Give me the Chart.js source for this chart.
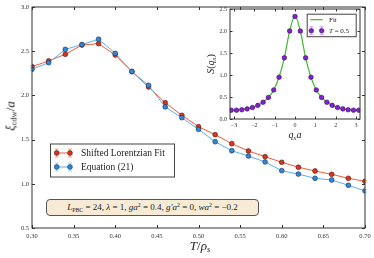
<!DOCTYPE html>
<html>
<head>
<meta charset="utf-8">
<script src="https://cdn.jsdelivr.net/npm/chart.js@4.4.1/dist/chart.umd.min.js"></script>
<style>
    body { margin: 0; background: #fff; }
    #wrap { position: relative; width: 374px; height: 258px; overflow: hidden; }
    canvas { position: absolute; top: 0; }
    #main { left: 0; }
    #inset { left: 195px; }
    .lbl { position: absolute; font-family: "Liberation Serif", serif; color: #222; white-space: nowrap; line-height: 1; }
    .lbl i { font-style: italic; }
    .lbl sub { font-size: 65%; vertical-align: -0.28em; line-height: 0; }
    .lbl sup { font-size: 65%; vertical-align: 0.45em; line-height: 0; }
    #ytitle { left: 10px; top: 116px; font-size: 13px; transform: translate(-50%, -50%) rotate(-90deg); }
    #xtitle { left: 200px; top: 245px; font-size: 13px; transform: translate(-50%, -50%); }
    #iytitle { left: 211px; top: 64px; font-size: 10px; transform: translate(-50%, -50%) rotate(-90deg); }
    #ixtitle { left: 295px; top: 135px; font-size: 10px; transform: translate(-50%, -50%); }
    #params { left: 46px; top: 199px; width: 211px; height: 15px; border: 1px solid #555; border-radius: 4px;
              background: #f7ebd6; font-size: 9px; display: flex; align-items: center; justify-content: center; }
</style>
</head>
<body>
<div id="wrap">
    <canvas id="main" width="374" height="258"></canvas>
    <canvas id="inset" width="179" height="145"></canvas>
    <div class="lbl" id="ytitle"><i>ξ</i><sub>cdw</sub>/<i>a</i></div>
    <div class="lbl" id="xtitle"><i>T</i>/<i>ρ<sub>s</sub></i></div>
    <div class="lbl" id="iytitle"><i>S</i>(<i>q<sub>x</sub></i>)</div>
    <div class="lbl" id="ixtitle"><i>q<sub>x</sub>a</i></div>
    <div class="lbl" id="params"><span><i>L</i><sub>PBC</sub> = 24, <i>λ</i> = 1, <i>ga</i><sup>2</sup> = 0.4, <i>g′a</i><sup>2</sup> = 0, <i>wa</i><sup>2</sup> = −0.2</span></div>
</div>

<script>
// Huvuddiagram: korrelationslängd mot temperatur
const temps = [0.30, 0.32, 0.34, 0.36, 0.38, 0.40, 0.42, 0.44, 0.46, 0.48, 0.50,
               0.52, 0.54, 0.56, 0.58, 0.60, 0.62, 0.64, 0.66, 0.68, 0.70];
const lorentzFit = [2.325, 2.39, 2.465, 2.57, 2.585, 2.457, 2.27, 2.095, 1.917, 1.775, 1.646,
                    1.556, 1.454, 1.371, 1.307, 1.243, 1.187, 1.145, 1.107, 1.062, 1.028];
const lorentzErr = [0.012, 0.012, 0.012, 0.012, 0.012, 0.012, 0.01, 0.01, 0.01, 0.01, 0.01,
                    0.01, 0.01, 0.01, 0.01, 0.01, 0.01, 0.01, 0.01, 0.01, 0.01];
const equation21 = [2.295, 2.37, 2.52, 2.575, 2.635, 2.476, 2.27, 2.114, 1.87, 1.748, 1.616,
                    1.476, 1.374, 1.314, 1.247, 1.148, 1.11, 1.062, 1.043, 0.983, 0.92];
const equationErr = [0.015, 0.015, 0.015, 0.015, 0.015, 0.015, 0.015, 0.015, 0.015, 0.015, 0.015,
                     0.015, 0.015, 0.015, 0.015, 0.015, 0.015, 0.015, 0.015, 0.015, 0.015];

// Insatt diagram: strukturfaktor vid T = 0.5
const momenta = [-3.1416, -2.8798, -2.618, -2.3562, -2.0944, -1.8326, -1.5708, -1.309, -1.0472,
                 -0.7854, -0.5236, -0.2618, 0, 0.2618, 0.5236, 0.7854, 1.0472, 1.309, 1.5708,
                 1.8326, 2.0944, 2.3562, 2.618, 2.8798, 3.1416];
const structure = [0.20, 0.20, 0.21, 0.23, 0.26, 0.31, 0.38, 0.49, 0.66, 0.95, 1.39, 2.00, 2.33,
                   2.00, 1.39, 0.95, 0.66, 0.49, 0.38, 0.31, 0.26, 0.23, 0.21, 0.20, 0.20];
const structureErr = [0.01, 0.01, 0.01, 0.01, 0.01, 0.01, 0.01, 0.015, 0.02, 0.02, 0.03, 0.03, 0.03,
                      0.03, 0.03, 0.02, 0.02, 0.015, 0.01, 0.01, 0.01, 0.01, 0.01, 0.01, 0.01];
const fitCurve = [0.20, 0.20, 0.21, 0.23, 0.26, 0.31, 0.38, 0.49, 0.66, 0.95, 1.39, 2.00, 2.35,
                  2.00, 1.39, 0.95, 0.66, 0.49, 0.38, 0.31, 0.26, 0.23, 0.21, 0.20, 0.20];

const serif = '"Liberation Serif", serif';

/**
 * Ram runt ritytan med inåtvända tickmarkeringar på alla fyra sidor.
 */
const framePlugin = {
    id: 'frame',
    afterDraw(chart, args, opts) {
        const { ctx, chartArea: a, scales } = chart;
        const len = opts.tickLength;
        ctx.save();
        ctx.strokeStyle = '#333';
        ctx.lineWidth = 1;
        ctx.strokeRect(a.left, a.top, a.right - a.left, a.bottom - a.top);
        ctx.beginPath();
        scales.x.ticks.forEach(t => {
            const px = Math.round(scales.x.getPixelForValue(t.value)) + 0.5;
            ctx.moveTo(px, a.bottom); ctx.lineTo(px, a.bottom - len);
            ctx.moveTo(px, a.top); ctx.lineTo(px, a.top + len);
        });
        scales.y.ticks.forEach(t => {
            const py = Math.round(scales.y.getPixelForValue(t.value)) + 0.5;
            ctx.moveTo(a.left, py); ctx.lineTo(a.left + len, py);
            ctx.moveTo(a.right, py); ctx.lineTo(a.right - len, py);
        });
        ctx.stroke();
        ctx.restore();
    }
};

/**
 * Ritar felstaplar för dataset som har en errors-lista.
 */
const errorBarPlugin = {
    id: 'errorBars',
    beforeDatasetsDraw(chart) {
        const ctx = chart.ctx;
        chart.data.datasets.forEach((ds, i) => {
            if (!ds.errors) return;
            const meta = chart.getDatasetMeta(i);
            const yScale = chart.scales[meta.yAxisID];
            ctx.save();
            ctx.strokeStyle = ds.errorColor;
            ctx.lineWidth = 1;
            meta.data.forEach((pt, j) => {
                const v = ds.data[j].y;
                const y1 = yScale.getPixelForValue(v - ds.errors[j]);
                const y2 = yScale.getPixelForValue(v + ds.errors[j]);
                ctx.beginPath();
                ctx.moveTo(pt.x, y1); ctx.lineTo(pt.x, y2);
                ctx.moveTo(pt.x - 2, y1); ctx.lineTo(pt.x + 2, y1);
                ctx.moveTo(pt.x - 2, y2); ctx.lineTo(pt.x + 2, y2);
                ctx.stroke();
            });
            ctx.restore();
        });
    }
};

/**
 * Förklaringsruta inne i ritytan, i matplotlib-stil.
 */
const boxLegendPlugin = {
    id: 'boxLegend',
    afterDraw(chart, args, o) {
        const { ctx, chartArea: a } = chart;
        const x0 = a.left + o.x, y0 = a.top + o.y;
        ctx.save();
        ctx.fillStyle = '#fff';
        ctx.strokeStyle = '#444';
        ctx.lineWidth = 1;
        ctx.fillRect(x0, y0, o.width, o.height);
        ctx.strokeRect(x0 + 0.5, y0 + 0.5, o.width, o.height);
        chart.data.datasets.forEach((ds, i) => {
            const ry = y0 + o.firstRow + i * o.rowGap;
            const m1 = x0 + o.mark1, m2 = x0 + o.mark2;
            if (ds.showLine !== false) {
                ctx.strokeStyle = ds.borderColor;
                ctx.lineWidth = ds.borderWidth;
                ctx.beginPath(); ctx.moveTo(m1 - (ds.pointRadius ? 0 : 1), ry); ctx.lineTo(m2 + (ds.pointRadius ? 0 : 1), ry); ctx.stroke();
            }
            if (ds.pointRadius) {
                [m1, m2].forEach(mx => {
                    ctx.strokeStyle = ds.errorColor;
                    ctx.lineWidth = 1;
                    ctx.beginPath();
                    ctx.moveTo(mx, ry - 4); ctx.lineTo(mx, ry + 4);
                    ctx.moveTo(mx - 2, ry - 4); ctx.lineTo(mx + 2, ry - 4);
                    ctx.moveTo(mx - 2, ry + 4); ctx.lineTo(mx + 2, ry + 4);
                    ctx.stroke();
                    ctx.fillStyle = ds.pointBackgroundColor;
                    ctx.strokeStyle = ds.pointBorderColor;
                    ctx.lineWidth = ds.pointBorderWidth;
                    ctx.beginPath(); ctx.arc(mx, ry, ds.pointRadius, 0, Math.PI * 2); ctx.fill(); ctx.stroke();
                });
            }
            ctx.fillStyle = '#222';
            ctx.textBaseline = 'middle';
            let tx = x0 + o.text;
            (ds.legendParts || [{ t: ds.label }]).forEach(p => {
                ctx.font = (p.it ? 'italic ' : '') + o.fontSize + 'px ' + serif;
                ctx.fillText(p.t, tx, ry + 0.5);
                tx += ctx.measureText(p.t).width;
            });
        });
        ctx.restore();
    }
};

/**
 * Skalaxel med fast storlek så att ritytan hamnar rätt.
 */
function fixedAxis(size, horizontal) {
    return function (scale) {
        if (horizontal) scale.height = size; else scale.width = size;
        scale.paddingLeft = 0; scale.paddingRight = 0;
        scale.paddingTop = 0; scale.paddingBottom = 0;
    };
}

function toXY(xs, ys) {
    return xs.map((x, i) => ({ x: x, y: ys[i] }));
}

/**
 * Skapar huvuddiagrammet.
 */
function createMainChart() {
    new Chart(document.getElementById('main'), {
        type: 'line',
        data: {
            datasets: [{
                label: 'Shifted Lorentzian Fit',
                data: toXY(temps, lorentzFit),
                errors: lorentzErr,
                errorColor: 'rgba(240, 130, 110, 0.7)',
                borderColor: '#f15a36',
                borderWidth: 1,
                pointRadius: 2.4,
                pointBackgroundColor: '#e2321b',
                pointBorderColor: '#3d1a12',
                pointBorderWidth: 0.6,
                order: 2
            }, {
                label: 'Equation (21)',
                data: toXY(temps, equation21),
                errors: equationErr,
                errorColor: 'rgba(140, 200, 245, 0.8)',
                borderColor: '#5aaef0',
                borderWidth: 1,
                pointRadius: 2.4,
                pointBackgroundColor: '#2f88db',
                pointBorderColor: '#17304a',
                pointBorderWidth: 0.6,
                order: 1
            }]
        },
        options: {
            responsive: false,
            animation: false,
            events: [],
            layout: { padding: { top: 7, right: 9, left: 0, bottom: 0 } },
            scales: {
                x: {
                    type: 'linear', min: 0.30, max: 0.70,
                    grid: { display: false, drawTicks: false },
                    border: { display: false },
                    afterFit: fixedAxis(30, true),
                    ticks: {
                        stepSize: 0.05, maxRotation: 0, padding: 4, color: '#333',
                        font: { family: serif, size: 6.5 },
                        callback: v => v.toFixed(2)
                    }
                },
                y: {
                    min: 0.5, max: 3.0,
                    grid: { display: false, drawTicks: false },
                    border: { display: false },
                    afterFit: fixedAxis(32, false),
                    ticks: {
                        stepSize: 0.5, padding: 3, color: '#333',
                        font: { family: serif, size: 6.5 },
                        callback: v => v.toFixed(1)
                    }
                }
            },
            plugins: {
                legend: { display: false },
                tooltip: { enabled: false },
                frame: { tickLength: 3 },
                boxLegend: { x: 18, y: 136.5, width: 124, height: 33, firstRow: 9.5, rowGap: 14,
                             mark1: 6.7, mark2: 20, text: 31, fontSize: 9.5 }
            }
        },
        plugins: [errorBarPlugin, framePlugin, boxLegendPlugin]
    });
}

/**
 * Skapar det insatta diagrammet med strukturfaktorn.
 */
function createInsetChart() {
    new Chart(document.getElementById('inset'), {
        type: 'line',
        data: {
            datasets: [{
                label: 'Fit',
                data: toXY(momenta, fitCurve),
                borderColor: '#3dbb2f',
                borderWidth: 1.2,
                pointRadius: 0,
                cubicInterpolationMode: 'monotone',
                order: 2
            }, {
                label: 'T = 0.5',
                legendParts: [{ t: 'T', it: true }, { t: ' = 0.5' }],
                data: toXY(momenta, structure),
                errors: structureErr,
                errorColor: 'rgba(200, 140, 245, 0.8)',
                showLine: false,
                pointRadius: 2.3,
                pointBackgroundColor: '#8420d0',
                pointBorderColor: '#3a1060',
                pointBorderWidth: 0.6,
                order: 1
            }]
        },
        options: {
            responsive: false,
            animation: false,
            events: [],
            layout: { padding: { top: 9, right: 14, left: 0, bottom: 0 } },
            scales: {
                x: {
                    type: 'linear', min: -3.2, max: 3.2,
                    grid: { display: false, drawTicks: false },
                    border: { display: false },
                    afterFit: fixedAxis(26, true),
                    ticks: {
                        stepSize: 1, includeBounds: false, maxRotation: 0, padding: 3, color: '#333',
                        font: { family: serif, size: 6 },
                        callback: v => (v < 0 ? '−' + Math.abs(v) : String(v))
                    }
                },
                y: {
                    min: 0, max: 2.5,
                    grid: { display: false, drawTicks: false },
                    border: { display: false },
                    afterFit: fixedAxis(35, false),
                    ticks: {
                        stepSize: 0.5, padding: 3, color: '#333',
                        font: { family: serif, size: 6 },
                        callback: v => v.toFixed(1)
                    }
                }
            },
            plugins: {
                legend: { display: false },
                tooltip: { enabled: false },
                frame: { tickLength: 2.5 },
                boxLegend: { x: 76.7, y: 4.7, width: 49, height: 22.5, firstRow: 6, rowGap: 11,
                             mark1: 4.6, mark2: 15, text: 22.3, fontSize: 7 }
            }
        },
        plugins: [errorBarPlugin, framePlugin, boxLegendPlugin]
    });
}

createMainChart();
createInsetChart();
</script>
</body>
</html>
